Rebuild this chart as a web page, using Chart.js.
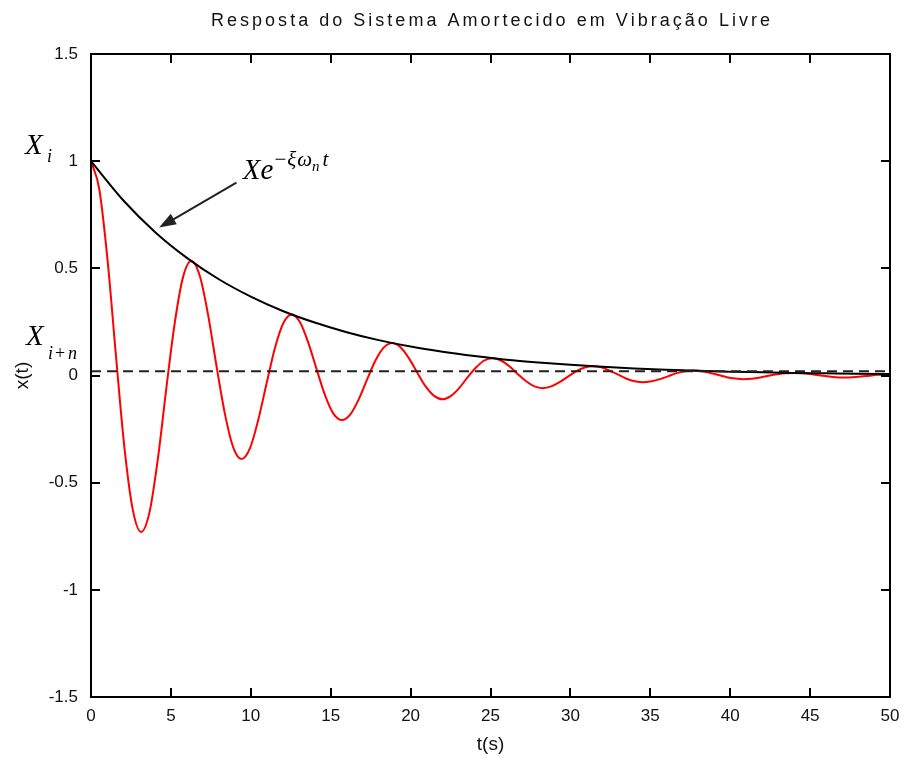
<!DOCTYPE html>
<html>
<head>
<meta charset="utf-8">
<script src="https://cdn.jsdelivr.net/npm/chart.js@4.4.1/dist/chart.umd.min.js"></script>
<style>
  html, body { margin: 0; padding: 0; background: #fff; }
</style>
</head>
<body>
<canvas id="chart" width="905" height="758"></canvas>
<script>
// Resposta livre amortecida
const tResp = [
  0, 0.52, 1.05, 1.57, 2.09, 2.62, 3.14, 3.67, 4.19, 4.71, 5.24, 5.76,
  6.28, 6.81, 7.33, 7.85, 8.38, 8.90, 9.42, 9.95, 10.47, 11.00, 11.52, 12.04,
  12.57, 13.09, 13.61, 14.14, 14.66, 15.18, 15.71, 16.23, 16.76, 17.28, 17.80, 18.33,
  18.85, 19.37, 19.90, 20.42, 20.94, 21.47, 21.99, 22.51, 23.04, 23.56, 24.09, 24.61,
  25.13, 25.66, 26.18, 26.70, 27.23, 27.75, 28.27, 28.80, 29.32, 29.85, 30.37, 30.89,
  31.42, 31.94, 32.46, 32.99, 33.51, 34.03, 34.56, 35.08, 35.60, 36.13, 36.65, 37.18,
  37.70, 38.22, 38.75, 39.27, 39.79, 40.32, 40.84, 41.36, 41.89, 42.41, 42.94, 43.46,
  43.98, 44.51, 45.03, 45.55, 46.08, 46.60, 47.12, 47.65, 48.17, 48.69, 49.22, 49.74, 50
];
const xResp = [
  1.000, 0.869, 0.528, 0.085, -0.335, -0.628, -0.730, -0.635, -0.386, -0.062, 0.245, 0.459,
  0.534, 0.464, 0.282, 0.046, -0.179, -0.335, -0.390, -0.339, -0.206, -0.033, 0.131, 0.245,
  0.285, 0.247, 0.150, 0.024, -0.095, -0.179, -0.208, -0.181, -0.110, -0.018, 0.070, 0.131,
  0.152, 0.132, 0.080, 0.013, -0.051, -0.095, -0.111, -0.096, -0.059, -0.009, 0.037, 0.070,
  0.081, 0.070, 0.043, 0.007, -0.027, -0.051, -0.059, -0.051, -0.031, -0.005, 0.020, 0.037,
  0.043, 0.038, 0.023, 0.004, -0.015, -0.027, -0.032, -0.027, -0.017, -0.003, 0.011, 0.020,
  0.023, 0.020, 0.012, 0.002, -0.008, -0.014, -0.017, -0.015, -0.009, -0.001, 0.006, 0.011,
  0.012, 0.011, 0.007, 0.001, -0.004, -0.008, -0.009, -0.008, -0.005, -0.001, 0.003, 0.006, 0.006
];

// Envoltória X e^(-xi wn t)
const tEnv = [0, 2, 4, 6, 8, 10, 12, 14, 16, 18, 20, 22, 24, 26, 28, 30, 32, 34, 36, 38, 40, 42, 44, 46, 48, 50];
const xEnv = [1.000, 0.819, 0.670, 0.549, 0.449, 0.368, 0.301, 0.247, 0.202, 0.165, 0.135, 0.111, 0.091,
              0.074, 0.061, 0.050, 0.041, 0.033, 0.027, 0.022, 0.018, 0.015, 0.012, 0.010, 0.008, 0.007];

// Linha tracejada de referência
const tRef = [0, 50];
const xRef = [0.02, 0.02];

const xTicks = [0, 5, 10, 15, 20, 25, 30, 35, 40, 45, 50];
const yTicks = [-1.5, -1, -0.5, 0, 0.5, 1, 1.5];

const titleText = 'Resposta do Sistema Amortecido em Vibração Livre';

const toPoints = (ts, vs) => ts.map((t, i) => ({ x: t, y: vs[i] }));

// texto com espaçamento entre letras, ajustado a uma largura
function spacedText(ctx, text, x0, x1, y) {
  const chars = [...text];
  let w = 0;
  chars.forEach(ch => { w += ctx.measureText(ch).width; });
  const spacing = (x1 - x0 - w) / (chars.length - 1);
  let cx = x0;
  chars.forEach(ch => {
    ctx.fillText(ch, cx, y);
    cx += ctx.measureText(ch).width + spacing;
  });
}

const framePlugin = {
  id: 'frame',
  afterDraw(chart) {
    const { ctx, chartArea: { left, right, top, bottom }, scales: { x, y } } = chart;
    ctx.save();
    // caixa
    ctx.strokeStyle = '#000';
    ctx.lineWidth = 2;
    ctx.strokeRect(left, top, right - left, bottom - top);
    // ticks para dentro nos quatro lados
    ctx.beginPath();
    x.ticks.forEach(tk => {
      const px = Math.round(x.getPixelForValue(tk.value));
      ctx.moveTo(px, bottom); ctx.lineTo(px, bottom - 9);
      ctx.moveTo(px, top); ctx.lineTo(px, top + 9);
    });
    y.ticks.forEach(tk => {
      const py = Math.round(y.getPixelForValue(tk.value));
      ctx.moveTo(left, py); ctx.lineTo(left + 9, py);
      ctx.moveTo(right, py); ctx.lineTo(right - 9, py);
    });
    ctx.stroke();

    // título
    ctx.fillStyle = '#111';
    ctx.font = '18px "Liberation Sans", Arial, sans-serif';
    ctx.textBaseline = 'middle';
    ctx.textAlign = 'left';
    spacedText(ctx, titleText, 211, 770, 21);

    // seta apontando para a envoltória
    const ax0 = x.getPixelForValue(9.1), ay0 = y.getPixelForValue(0.90);
    const ax1 = x.getPixelForValue(4.26), ay1 = y.getPixelForValue(0.69);
    const ang = Math.atan2(ay1 - ay0, ax1 - ax0);
    const hl = 17, hw = 6;
    ctx.strokeStyle = '#222';
    ctx.fillStyle = '#222';
    ctx.lineWidth = 2;
    ctx.beginPath();
    ctx.moveTo(ax0, ay0);
    ctx.lineTo(ax1 - Math.cos(ang) * hl * 0.8, ay1 - Math.sin(ang) * hl * 0.8);
    ctx.stroke();
    ctx.beginPath();
    ctx.moveTo(ax1, ay1);
    ctx.lineTo(ax1 - Math.cos(ang) * hl + Math.sin(ang) * hw, ay1 - Math.sin(ang) * hl - Math.cos(ang) * hw);
    ctx.lineTo(ax1 - Math.cos(ang) * hl - Math.sin(ang) * hw, ay1 - Math.sin(ang) * hl + Math.cos(ang) * hw);
    ctx.closePath();
    ctx.fill();

    // rótulo Xe^{-ξω_n t}
    const lx = x.getPixelForValue(9.5), ly = y.getPixelForValue(0.915);
    ctx.fillStyle = '#000';
    ctx.textBaseline = 'alphabetic';
    ctx.font = 'italic 29px "Liberation Serif", "Times New Roman", serif';
    ctx.fillText('Xe', lx, ly);
    let sx = lx + ctx.measureText('Xe').width + 1;
    ctx.font = '21px "Liberation Serif", serif';
    ctx.fillText('\u2212', sx, ly - 13);
    sx += ctx.measureText('\u2212').width + 1;
    ctx.font = 'italic 21px "Liberation Serif", serif';
    ctx.fillText('\u03BE', sx, ly - 13);
    sx += ctx.measureText('\u03BE').width + 1;
    ctx.fillText('\u03C9', sx, ly - 13);
    sx += ctx.measureText('\u03C9').width;
    ctx.font = 'italic 15px "Liberation Serif", serif';
    ctx.fillText('n', sx, ly - 8);
    sx += ctx.measureText('n').width + 3;
    ctx.font = 'italic 21px "Liberation Serif", serif';
    ctx.fillText('t', sx, ly - 13);

    // X_i e X_{i+n} à esquerda do eixo
    const yi = y.getPixelForValue(1.0);
    ctx.font = 'italic 29px "Liberation Serif", serif';
    ctx.fillText('X', 25, yi - 7);
    ctx.font = 'italic 18px "Liberation Serif", serif';
    ctx.fillText('i', 47, yi + 1);

    const yn = y.getPixelForValue(0.14);
    ctx.font = 'italic 29px "Liberation Serif", serif';
    ctx.fillText('X', 26, yn);
    ctx.font = 'italic 18px "Liberation Serif", serif';
    ctx.fillText('i', 48, yn + 14);
    ctx.font = '18px "Liberation Serif", serif';
    ctx.fillText('+', 55, yn + 14);
    ctx.font = 'italic 18px "Liberation Serif", serif';
    ctx.fillText('n', 68, yn + 14);
    ctx.restore();
  }
};

const tickFont = { family: '"Liberation Sans", Arial, sans-serif', size: 17 };
const titleFont = { family: '"Liberation Sans", Arial, sans-serif', size: 19 };
const noGrid = { display: false, drawTicks: false, tickLength: 0 };

new Chart(document.getElementById('chart'), {
  type: 'line',
  data: {
    datasets: [
      {
        data: toPoints(tRef, xRef),
        borderColor: '#222',
        borderWidth: 2,
        borderDash: [10, 6],
        pointRadius: 0,
        order: 1
      },
      {
        data: toPoints(tEnv, xEnv),
        borderColor: '#000',
        borderWidth: 2,
        pointRadius: 0,
        cubicInterpolationMode: 'monotone',
        order: 2
      },
      {
        data: toPoints(tResp, xResp),
        borderColor: '#ff0000',
        borderWidth: 2,
        pointRadius: 0,
        cubicInterpolationMode: 'monotone',
        order: 3
      }
    ]
  },
  options: {
    responsive: false,
    animation: false,
    layout: { padding: { left: 0, right: 15, top: 54, bottom: 0 } },
    plugins: { legend: { display: false }, tooltip: { enabled: false } },
    scales: {
      x: {
        type: 'linear',
        min: 0,
        max: 50,
        afterBuildTicks: s => { s.ticks = xTicks.map(v => ({ value: v })); },
        afterFit: s => { s.height = 61; s.paddingLeft = 0; s.paddingRight = 0; },
        ticks: { color: '#111', font: tickFont, padding: 9, maxRotation: 0, callback: v => String(v) },
        grid: noGrid,
        border: { display: false },
        title: { display: true, text: 't(s)', color: '#111', font: titleFont, padding: { top: 0, bottom: 2 } }
      },
      y: {
        type: 'linear',
        min: -1.5,
        max: 1.5,
        afterBuildTicks: s => { s.ticks = yTicks.map(v => ({ value: v })); },
        afterFit: s => { s.width = 91; s.paddingTop = 0; s.paddingBottom = 0; },
        ticks: { color: '#111', font: tickFont, padding: 13, callback: v => String(v) },
        grid: noGrid,
        border: { display: false },
        title: { display: true, text: 'x(t)', color: '#111', font: titleFont, padding: { top: 11, bottom: 0 } }
      }
    }
  },
  plugins: [framePlugin]
});
</script>
</body>
</html>
